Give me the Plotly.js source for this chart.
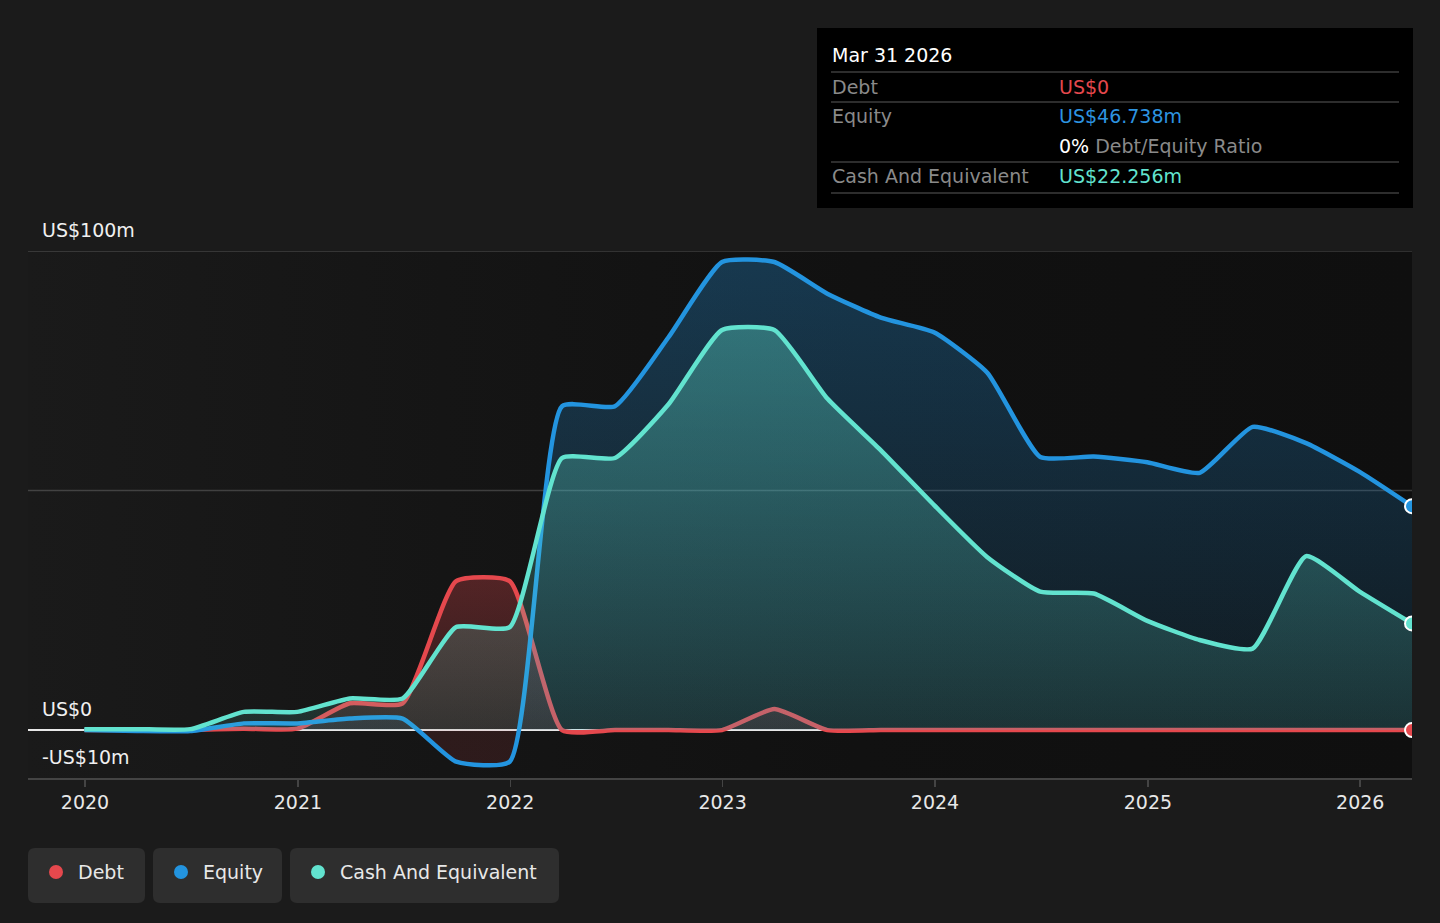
<!DOCTYPE html>
<html>
<head>
<meta charset="utf-8">
<script src="https://cdn.plot.ly/plotly-3.0.1.min.js"></script>
<style>
  html, body { margin: 0; padding: 0; background: #1b1b1b; }
  #wrap { position: relative; width: 1440px; height: 923px; }
  #shade {
    position: absolute; left: 28px; top: 251px; width: 1384px; height: 527px;
    background: linear-gradient(to right, #1a1a1a 0%, #151515 30%, #111111 60%, #0f0f0f 100%);
  }
  #chart { position: absolute; left: 0; top: 0; width: 1440px; height: 923px; }
</style>
</head>
<body>
<div id="wrap">
  <div id="shade"></div>
  <div id="chart"></div>
</div>
<script>
// quarter ends
const dates = [
  '2019-12-31', '2020-03-31', '2020-06-30', '2020-09-30', '2020-12-31',
  '2021-03-31', '2021-06-30', '2021-09-30', '2021-12-31',
  '2022-03-31', '2022-06-30', '2022-09-30', '2022-12-31',
  '2023-03-31', '2023-06-30', '2023-09-30', '2023-12-31',
  '2024-03-31', '2024-06-30', '2024-09-30', '2024-12-31',
  '2025-03-31', '2025-06-30', '2025-09-30', '2025-12-31',
  '2026-03-31'
];
// US$ millions
const debt = [0, 0, 0, 0.3, 0.3, 5.6, 5.6, 31.1, 31.1, 0, 0, 0, 0, 4.4, 0, 0, 0, 0, 0, 0, 0, 0, 0, 0, 0, 0];
const equity = [0, -0.2, -0.2, 1.4, 1.4, 2.4, 2.4, -6.6, -6.6, 67.6, 67.6, 82, 97.7, 97.7, 91.1, 86.1,
  83.0, 74.6, 57.0, 57.1, 55.9, 53.7, 63.3, 59.9, 53.9, 46.738];
const cash = [0.2, 0.2, 0.2, 3.8, 3.8, 6.6, 6.6, 21.5, 21.5, 56.8, 56.8, 68, 83.5, 83.5, 69.2, 58.4,
  46.9, 36.1, 28.9, 28.5, 22.8, 18.8, 17.0, 36.3, 28.9, 22.256];

const yTicks = [-10, 0, 100];
const yTickText = ['-US$10m', 'US$0', 'US$100m'];
const yGrid = [50, 100];

const colors = { debt: '#e5484d', equity: '#2394df', cash: '#62e3cf' };
const FONT = 'DejaVu Sans, sans-serif';

// pixel -> paper helpers for the overlay box and legend
const L = 28, R = 1412, T = 251, B = 778;
const px = x => (x - L) / (R - L);
const py = y => (B - y) / (B - T);

function roundRect(x0, y0, x1, y1, r) {
  const a = px(x0), b = px(x1), c = py(y0), d = py(y1);
  const rx = r / (R - L), ry = r / (B - T);
  return `M${a + rx},${c} L${b - rx},${c} Q${b},${c} ${b},${c - ry} L${b},${d + ry} Q${b},${d} ${b - rx},${d}` +
    ` L${a + rx},${d} Q${a},${d} ${a},${d + ry} L${a},${c - ry} Q${a},${c} ${a + rx},${c} Z`;
}

const line = (color) => ({ color: color, width: 4.5, shape: 'spline', smoothing: 0.5 });
const last = arr => arr[arr.length - 1];

const traces = [
  {
    x: dates, y: debt, type: 'scatter', mode: 'lines', name: 'Debt',
    line: line(colors.debt), fill: 'tozeroy',
    fillgradient: { type: 'vertical', colorscale: [[0, 'rgba(229,72,77,0.12)'], [1, 'rgba(229,72,77,0.3)']] },
  },
  {
    x: dates, y: equity, type: 'scatter', mode: 'lines', name: 'Equity',
    line: line(colors.equity), fill: 'tozeroy',
    fillgradient: {
      type: 'vertical', start: -10, stop: 100,
      colorscale: [[0, 'rgba(229,72,77,0.12)'], [0.09, 'rgba(229,72,77,0.12)'],
        [0.091, 'rgba(35,148,223,0.08)'], [1, 'rgba(35,148,223,0.3)']],
    },
  },
  {
    x: dates, y: cash, type: 'scatter', mode: 'lines', name: 'Cash And Equivalent',
    line: line(colors.cash), fill: 'tozeroy',
    fillgradient: {
      type: 'vertical', start: 0, stop: 100,
      colorscale: [[0, 'rgba(98,227,207,0.12)'], [1, 'rgba(98,227,207,0.4)']],
    },
  },
];

// end-of-series dots
[[equity, colors.equity], [cash, colors.cash], [debt, colors.debt]].forEach(([arr, c]) => {
  traces.push({
    x: [last(dates)], y: [last(arr)], type: 'scatter', mode: 'markers',
    marker: { size: 14, color: c, line: { color: '#ffffff', width: 2 } },
  });
});

const shapes = [];
const annotations = [];

// grid lines (the top one sits on the range edge)
yGrid.forEach(v => {
  shapes.push({ type: 'line', xref: 'paper', yref: 'y', x0: 0, x1: 1, y0: v, y1: v, layer: 'below',
    line: { color: 'rgba(255,255,255,0.18)', width: 1.5 } });
});

// y labels sit above their lines
yTicks.forEach((v, i) => {
  annotations.push({
    xref: 'paper', yref: 'y', x: 0, y: v, xanchor: 'left', yanchor: 'bottom',
    xshift: 12, yshift: 8, showarrow: false, text: yTickText[i],
    font: { family: FONT, size: 19, color: '#f0f0f0' },
  });
});

// tooltip box
shapes.push({ type: 'rect', xref: 'paper', yref: 'paper', x0: px(817), x1: px(1413), y0: py(208), y1: py(28),
  fillcolor: '#000000', line: { width: 0 } });
[72, 102, 162, 193].forEach(y => {
  shapes.push({ type: 'line', xref: 'paper', yref: 'paper', x0: px(831), x1: px(1399), y0: py(y), y1: py(y),
    line: { color: '#3c3c3c', width: 1.5 } });
});
const tip = (x, y, text, color, size) => annotations.push({
  xref: 'paper', yref: 'paper', x: px(x), y: py(y), xanchor: 'left', yanchor: 'middle',
  showarrow: false, text: text, font: { family: FONT, size: size || 19, color: color },
});
tip(830, 55, 'Mar 31 2026', '#ffffff', 19);
tip(830, 87, 'Debt', '#8a8a8a');
tip(1057, 87, 'US$0', '#e5484d');
tip(830, 116, 'Equity', '#8a8a8a');
tip(1057, 116, 'US$46.738m', '#2d94e0');
tip(1057, 146, '<span style="color:#ffffff">0%</span> Debt/Equity Ratio', '#8a8a8a');
tip(830, 176, 'Cash And Equivalent', '#8a8a8a');
tip(1057, 176, 'US$22.256m', '#62e3cf');

// legend chips
const legendItems = [
  { name: 'Debt', color: colors.debt, x0: 28, x1: 145 },
  { name: 'Equity', color: colors.equity, x0: 153, x1: 282 },
  { name: 'Cash And Equivalent', color: colors.cash, x0: 290, x1: 559 },
];
legendItems.forEach(it => {
  shapes.push({ type: 'path', xref: 'paper', yref: 'paper', path: roundRect(it.x0, 848, it.x1, 903, 7),
    fillcolor: '#2e2e2e', line: { width: 0 } });
  const cx = it.x0 + 28;
  shapes.push({ type: 'circle', xref: 'paper', yref: 'paper', x0: px(cx - 7), x1: px(cx + 7),
    y0: py(879), y1: py(865), fillcolor: it.color, line: { width: 0 } });
  annotations.push({ xref: 'paper', yref: 'paper', x: px(cx + 20), y: py(872), xanchor: 'left', yanchor: 'middle',
    showarrow: false, text: it.name, font: { family: FONT, size: 19, color: '#e8e8e8' } });
});

const layout = {
  width: 1440, height: 923,
  margin: { l: L, r: 1440 - R, t: T, b: 923 - B, pad: 0 },
  paper_bgcolor: 'rgba(0,0,0,0)', plot_bgcolor: 'rgba(0,0,0,0)',
  showlegend: false, hovermode: false,
  font: { family: FONT, color: '#e8e8e8', size: 19 },
  xaxis: {
    type: 'date', range: ['2019-09-25', '2026-03-31'],
    tick0: '2020-01-01', dtick: 'M12', tickformat: '%Y',
    showgrid: false, zeroline: false,
    showline: true, linecolor: '#444444', linewidth: 1.5,
    ticks: 'outside', ticklen: 7, tickcolor: '#444444', tickwidth: 1.5,
    tickfont: { family: FONT, size: 19, color: '#e8e8e8' },
    fixedrange: true,
  },
  yaxis: {
    range: [-10, 100], showgrid: false, showticklabels: false,
    zeroline: true, zerolinecolor: '#e8e8e8', zerolinewidth: 1.5,
    showline: false, fixedrange: true,
  },
  shapes: shapes,
  annotations: annotations,
};

Plotly.newPlot('chart', traces, layout, { displayModeBar: false, staticPlot: true });
</script>
</body>
</html>
